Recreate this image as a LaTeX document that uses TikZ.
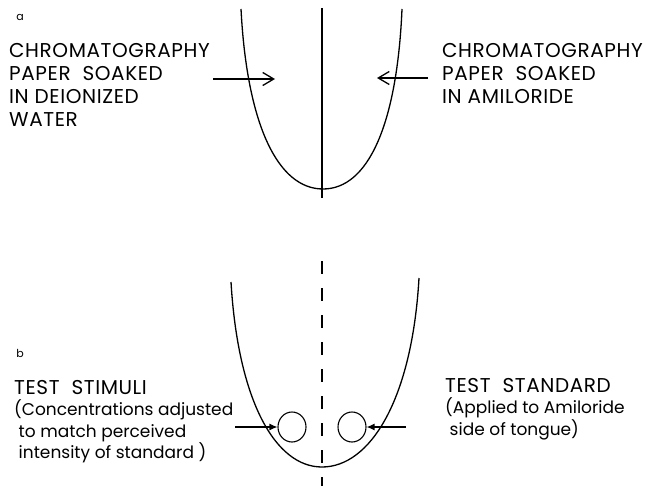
\documentclass[tikz,border=0pt]{standalone}
\usepackage{fontspec}
\setmainfont{Poppins}
\newfontfamily\capsfont{Poppins}[LetterSpace=3]
\newcommand{\lcsize}{\normalfont\fontsize{17}{21.5}\selectfont}
\usetikzlibrary{arrows.meta,positioning,shapes.geometric}
\tikzset{
  tongue/.style={line width=1.3pt, draw=black},
  lbl/.style={anchor=north west, inner sep=0pt, align=left, font=\capsfont\fontsize{20}{23}\selectfont},
  lbls/.style={anchor=north west, inner sep=0pt, align=left, font=\capsfont\fontsize{20}{21.5}\selectfont},
  tag/.style={inner sep=0pt, font=\fontsize{11}{12}\selectfont},
  ptr/.style={-{Straight Barb[length=11pt,width=13pt]}, line width=1.3pt},
  ptrb/.style={-{Latex[length=8pt,width=7pt]}, line width=1.2pt},
  spot/.style={ellipse, draw, line width=1.1pt, minimum width=28pt, minimum height=30pt, inner sep=0pt},
}
\begin{document}
\begin{tikzpicture}[x=1pt, y=-1pt]
  \useasboundingbox (0,0) rectangle (647,486);

  % panel a
  \node[tag] (taga) at (20,17) {a};
  \draw[tongue] (241,9) .. controls (247,125) and (278,189) .. (323,189)
                        .. controls (368,189) and (397,125) .. (402,9);
  \draw[tongue] (322,8) -- (322,198);
  \node[lbl] (water) at (9,43) {CHROMATOGRAPHY\\PAPER\ \ SOAKED\\IN DEIONIZED\\WATER};
  \node[lbl] (amil) at (442,43) {CHROMATOGRAPHY\\PAPER\ \ SOAKED\\IN AMILORIDE};
  \coordinate (wtail) at (213,79);
  \coordinate (whead) at (275,79);
  \coordinate (atail) at (428,78);
  \coordinate (ahead) at (377,78);
  \draw[ptr] (wtail) -- (whead);
  \draw[ptr] (atail) -- (ahead);

  % panel b
  \node[tag] (tagb) at (20,353) {b};
  \draw[tongue] (231,282) .. controls (238,400) and (275,467) .. (322,467)
                          .. controls (370,467) and (412,400) .. (419,278);
  \draw[tongue, dash pattern=on 13pt off 14pt] (322,261) -- (322,486);
  \node[spot] (stim) at (292,427) {};
  \node[spot] (std) at (352,427) {};
  \node[lbls] (stimtxt) at (14,380) {TEST\ \ STIMULI\\\lcsize(Concentrations adjusted\\\lcsize\ to match perceived\\\lcsize\ intensity of standard )};
  \node[lbls] (stdtxt) at (445,378) {TEST\ \ STANDARD\\\lcsize(Applied to Amiloride\\\lcsize\ side of tongue)};
  \coordinate (stail) at (235,427);
  \coordinate (dtail) at (406,427);
  \draw[ptrb] (stail) -- (stim.west);
  \draw[ptrb] (dtail) -- (std.east);
\end{tikzpicture}
\end{document}
